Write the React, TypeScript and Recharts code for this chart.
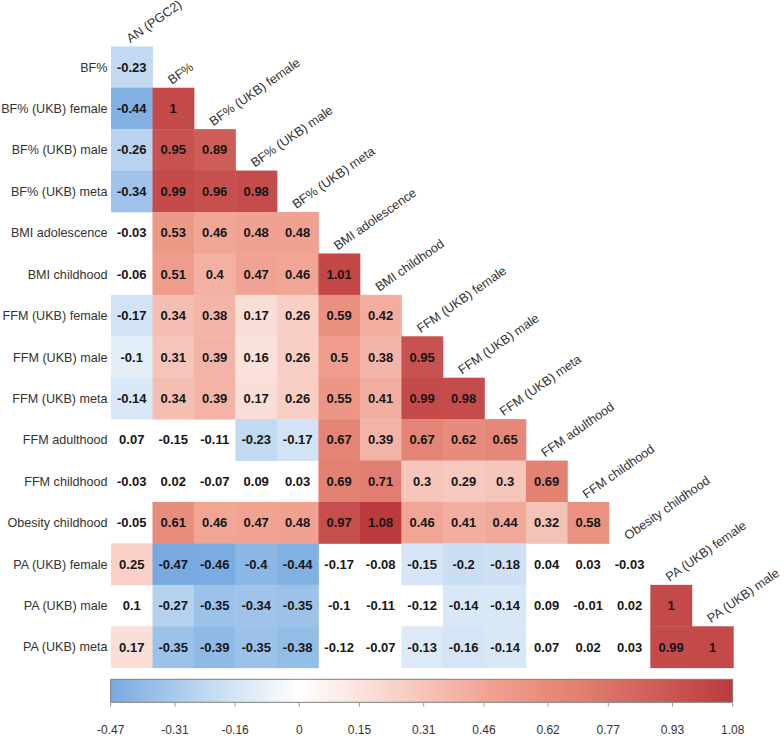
import React from 'react';
import {
  ScatterChart,
  Scatter,
  BarChart,
  Bar,
  XAxis,
  YAxis,
} from 'recharts';

// Row (trait) names, top to bottom
const rowLabels = [
  'BF%', 'BF% (UKB) female', 'BF% (UKB) male', 'BF% (UKB) meta',
  'BMI adolescence', 'BMI childhood', 'FFM (UKB) female', 'FFM (UKB) male',
  'FFM (UKB) meta', 'FFM adulthood', 'FFM childhood', 'Obesity childhood',
  'PA (UKB) female', 'PA (UKB) male', 'PA (UKB) meta',
];

// Column names, left to right
const colLabels = [
  'AN (PGC2)', 'BF%', 'BF% (UKB) female', 'BF% (UKB) male', 'BF% (UKB) meta',
  'BMI adolescence', 'BMI childhood', 'FFM (UKB) female', 'FFM (UKB) male',
  'FFM (UKB) meta', 'FFM adulthood', 'FFM childhood', 'Obesity childhood',
  'PA (UKB) female', 'PA (UKB) male',
];

// Genetic correlations (lower triangle, one list per row)
const correlations: number[][] = [
  [-0.23],
  [-0.44, 1],
  [-0.26, 0.95, 0.89],
  [-0.34, 0.99, 0.96, 0.98],
  [-0.03, 0.53, 0.46, 0.48, 0.48],
  [-0.06, 0.51, 0.4, 0.47, 0.46, 1.01],
  [-0.17, 0.34, 0.38, 0.17, 0.26, 0.59, 0.42],
  [-0.1, 0.31, 0.39, 0.16, 0.26, 0.5, 0.38, 0.95],
  [-0.14, 0.34, 0.39, 0.17, 0.26, 0.55, 0.41, 0.99, 0.98],
  [0.07, -0.15, -0.11, -0.23, -0.17, 0.67, 0.39, 0.67, 0.62, 0.65],
  [-0.03, 0.02, -0.07, 0.09, 0.03, 0.69, 0.71, 0.3, 0.29, 0.3, 0.69],
  [-0.05, 0.61, 0.46, 0.47, 0.48, 0.97, 1.08, 0.46, 0.41, 0.44, 0.32, 0.58],
  [0.25, -0.47, -0.46, -0.4, -0.44, -0.17, -0.08, -0.15, -0.2, -0.18, 0.04, 0.03, -0.03],
  [0.1, -0.27, -0.35, -0.34, -0.35, -0.1, -0.11, -0.12, -0.14, -0.14, 0.09, -0.01, 0.02, 1],
  [0.17, -0.35, -0.39, -0.35, -0.38, -0.12, -0.07, -0.13, -0.16, -0.14, 0.07, 0.02, 0.03, 0.99, 1],
];

// 1 = significant (coloured cell), 0 = left white
const significant: number[][] = [
  [1],
  [1, 1],
  [1, 1, 1],
  [1, 1, 1, 1],
  [0, 1, 1, 1, 1],
  [0, 1, 1, 1, 1, 1],
  [1, 1, 1, 1, 1, 1, 1],
  [1, 1, 1, 1, 1, 1, 1, 1],
  [1, 1, 1, 1, 1, 1, 1, 1, 1],
  [0, 0, 0, 1, 1, 1, 1, 1, 1, 1],
  [0, 0, 0, 0, 0, 1, 1, 1, 1, 1, 1],
  [0, 1, 1, 1, 1, 1, 1, 1, 1, 1, 1, 1],
  [1, 1, 1, 1, 1, 0, 0, 1, 1, 1, 0, 0, 0],
  [0, 1, 1, 1, 1, 0, 0, 0, 1, 1, 0, 0, 0, 1],
  [1, 1, 1, 1, 1, 0, 0, 1, 1, 1, 0, 0, 0, 1, 1],
];

// colour bar ticks
const barTicks = [-0.47, -0.31, -0.16, 0, 0.15, 0.31, 0.46, 0.62, 0.77, 0.93, 1.08];

const FONT = '"Liberation Sans", Arial, Helvetica, sans-serif';
const N = rowLabels.length;

// plot geometry (page coords)
const W = 784;
const PLOT_LEFT = 111;
const PLOT_RIGHT = 733.3;
const PLOT_TOP = 46.3;
const PLOT_BOTTOM = 667.7;
const CELL_W = (PLOT_RIGHT - PLOT_LEFT) / N;
const CELL_H = (PLOT_BOTTOM - PLOT_TOP) / N;
const HEAT_H = 670;

// colour ramp
const rampStops: [number, string][] = [
  [-0.47, '#78aae0'],
  [-0.23, '#c1d9f1'],
  [0, '#ffffff'],
  [0.25, '#f8d0c7'],
  [0.5, '#ef9d8c'],
  [0.7, '#e27f72'],
  [0.9, '#cd5b56'],
  [1.08, '#bc3a3e'],
];

function hexToRgb(h: string) {
  const n = parseInt(h.slice(1), 16);
  return [(n >> 16) & 255, (n >> 8) & 255, n & 255];
}

function colorFor(v: number) {
  if (v <= rampStops[0][0]) return rampStops[0][1];
  for (let i = 1; i < rampStops.length; i++) {
    const [v1, c1] = rampStops[i];
    const [v0, c0] = rampStops[i - 1];
    if (v <= v1) {
      const t = (v - v0) / (v1 - v0);
      const a = hexToRgb(c0);
      const b = hexToRgb(c1);
      const m = a.map((x, k) => Math.round(x + (b[k] - x) * t));
      return `rgb(${m[0]},${m[1]},${m[2]})`;
    }
  }
  return rampStops[rampStops.length - 1][1];
}

const cells = correlations.flatMap((row, i) =>
  row.map((v, j) => ({ x: j + 0.5, y: i + 0.5, v, sig: significant[i][j] === 1 }))
);

const headerPoints = colLabels.map((name, j) => ({ x: j + 0.5, y: j, name }));

const scaleRow = [{ name: 'scale', range: [barTicks[0], barTicks[barTicks.length - 1]] }];

const CellShape = (props: any) => {
  const { cx, cy, payload } = props;
  if (cx == null || cy == null) return null;
  return (
    <g>
      {payload.sig && (
        <rect
          x={cx - CELL_W / 2}
          y={cy - CELL_H / 2}
          width={CELL_W + 0.4}
          height={CELL_H + 0.4}
          fill={colorFor(payload.v)}
        />
      )}
      <text
        x={cx}
        y={cy + 4.6}
        textAnchor="middle"
        fontSize={13}
        fontWeight="bold"
        fontFamily={FONT}
        fill="#161616"
      >
        {String(payload.v)}
      </text>
    </g>
  );
};

const HeaderShape = (props: any) => {
  const { cx, cy, payload } = props;
  if (cx == null || cy == null) return null;
  const x = cx - 1.5;
  const y = cy - 3;
  return (
    <text
      x={x}
      y={y}
      transform={`rotate(-35 ${x} ${y})`}
      fontSize={12.7}
      fontFamily={FONT}
      fill="#333"
    >
      {payload.name}
    </text>
  );
};

const RowTick = (props: any) => {
  const { x, y, payload } = props;
  return (
    <text x={x} y={y + 4.5} textAnchor="end" fontSize={12.6} fontFamily={FONT} fill="#333">
      {rowLabels[Math.floor(payload.value)]}
    </text>
  );
};

const rowTicks = rowLabels.map((_, i) => i + 0.5);

export default function App() {
  const span = barTicks[barTicks.length - 1] - barTicks[0];
  return (
    <div
      style={{
        position: 'absolute',
        left: 0,
        top: 0,
        width: W,
        height: 736,
        overflow: 'hidden',
        background: '#fff',
        fontFamily: FONT,
      }}
    >
      <ScatterChart
        width={W}
        height={HEAT_H}
        margin={{ top: PLOT_TOP, right: W - PLOT_RIGHT, bottom: HEAT_H - PLOT_BOTTOM, left: 0 }}
      >
        <XAxis type="number" dataKey="x" domain={[0, N]} hide />
        <YAxis
          type="number"
          dataKey="y"
          domain={[0, N]}
          reversed
          ticks={rowTicks}
          interval={0}
          width={PLOT_LEFT}
          axisLine={false}
          tickLine={false}
          tickSize={0}
          tickMargin={3.5}
          tick={<RowTick />}
        />
        <Scatter data={cells} shape={CellShape} isAnimationActive={false} />
        <Scatter data={headerPoints} shape={HeaderShape} isAnimationActive={false} />
      </ScatterChart>

      <div style={{ position: 'absolute', left: 0, top: 670 }}>
        <BarChart
          width={W}
          height={66}
          layout="vertical"
          data={scaleRow}
          barCategoryGap={0}
          margin={{ top: 9.3, right: W - 732.7, bottom: 0, left: 110.7 }}
        >
          <defs>
            <linearGradient id="cbar" x1="0" y1="0" x2="1" y2="0">
              {rampStops.map(([v, c]) => (
                <stop key={v} offset={(v - barTicks[0]) / span} stopColor={c} />
              ))}
            </linearGradient>
          </defs>
          <XAxis
            type="number"
            domain={[barTicks[0], barTicks[barTicks.length - 1]]}
            ticks={barTicks}
            interval={0}
            height={33.7}
            axisLine={false}
            tickSize={4.4}
            tickMargin={19}
            tickLine={{ stroke: '#9a9a9a' }}
            tick={{ fill: '#333', fontSize: 12, fontFamily: FONT }}
          />
          <YAxis type="category" dataKey="name" hide />
          <Bar
            dataKey="range"
            fill="url(#cbar)"
            stroke="#7d7d7d"
            strokeWidth={1}
            isAnimationActive={false}
          />
        </BarChart>
      </div>
    </div>
  );
}
